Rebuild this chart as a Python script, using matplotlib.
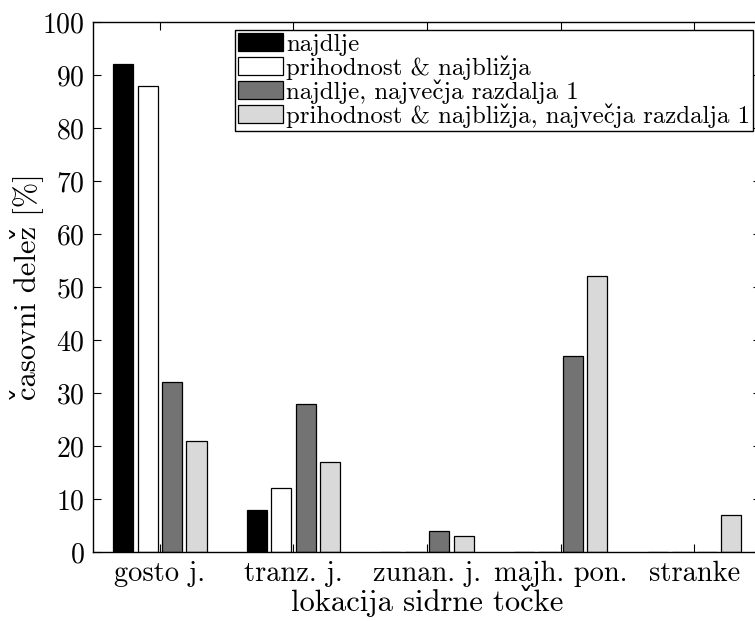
import numpy as np
import matplotlib.pyplot as plt

plt.rcParams['font.family'] = ['cmr10', 'DejaVu Serif']
plt.rcParams['axes.formatter.use_mathtext'] = True

lokacije = ['gosto j.', 'tranz. j.', 'zunan. j.', 'majh. pon.', 'stranke']
najdlje = [92, 8, 0, 0, 0]
prihodnost = [88, 12, 0, 0, 0]
najdlje_r1 = [32, 28, 4, 37, 0]
prihodnost_r1 = [21, 17, 3, 52, 7]

serije = [najdlje, prihodnost, najdlje_r1, prihodnost_r1]
oznake = ['najdlje', 'prihodnost & najbližja',
          'najdlje, največja razdalja 1',
          'prihodnost & najbližja, največja razdalja 1']
barve = ['#000000', '#ffffff', '#737373', '#d9d9d9']


def cm(s):
    # cmr10 nima črk s strešico: osnovna črka + kombinirana strešica
    return s.replace('č', 'c\u030c').replace('ž', 'z\u030c').replace('š', 's\u030c')


fig = plt.figure(figsize=(7.55, 6.21), dpi=100)
ax = fig.add_axes([0.1232, 0.111, 0.885, 0.8535])

x = np.arange(1, len(lokacije) + 1)
korak = 0.183
sirina = 0.15
for i, (vals, lab, c) in enumerate(zip(serije, oznake, barve)):
    ax.bar(x + (i - 1.5) * korak, vals, sirina, color=c, edgecolor='black',
           linewidth=0.9, label=cm(lab))

ax.set_xlim(0.5, 5.5)
ax.set_ylim(0, 100)
ax.set_yticks(np.arange(0, 101, 10))
ax.set_xticks(x)
ax.set_xticklabels(lokacije)
ax.tick_params(direction='in', top=True, right=True, labelsize=20,
               length=6, width=0.8, pad=6)
ax.tick_params(axis='x', labelsize=20.5)
for s in ax.spines.values():
    s.set_linewidth(1.0)

ax.set_xlabel(cm('lokacija sidrne točke'), fontsize=22, labelpad=-1)
ax.set_ylabel(cm('časovni delež [%]'), fontsize=22, labelpad=-1)

leg = ax.legend(loc='upper right', bbox_to_anchor=(753 / 755, 1 - 30 / 621),
                bbox_transform=fig.transFigure, fontsize=17.9,
                fancybox=False, edgecolor='black', framealpha=1,
                handlelength=1.8, handleheight=0.75, handletextpad=0.12,
                borderpad=0.12, labelspacing=-0.02, borderaxespad=0)
leg.get_frame().set_linewidth(1.0)

fig.savefig('out.png', dpi=100)
